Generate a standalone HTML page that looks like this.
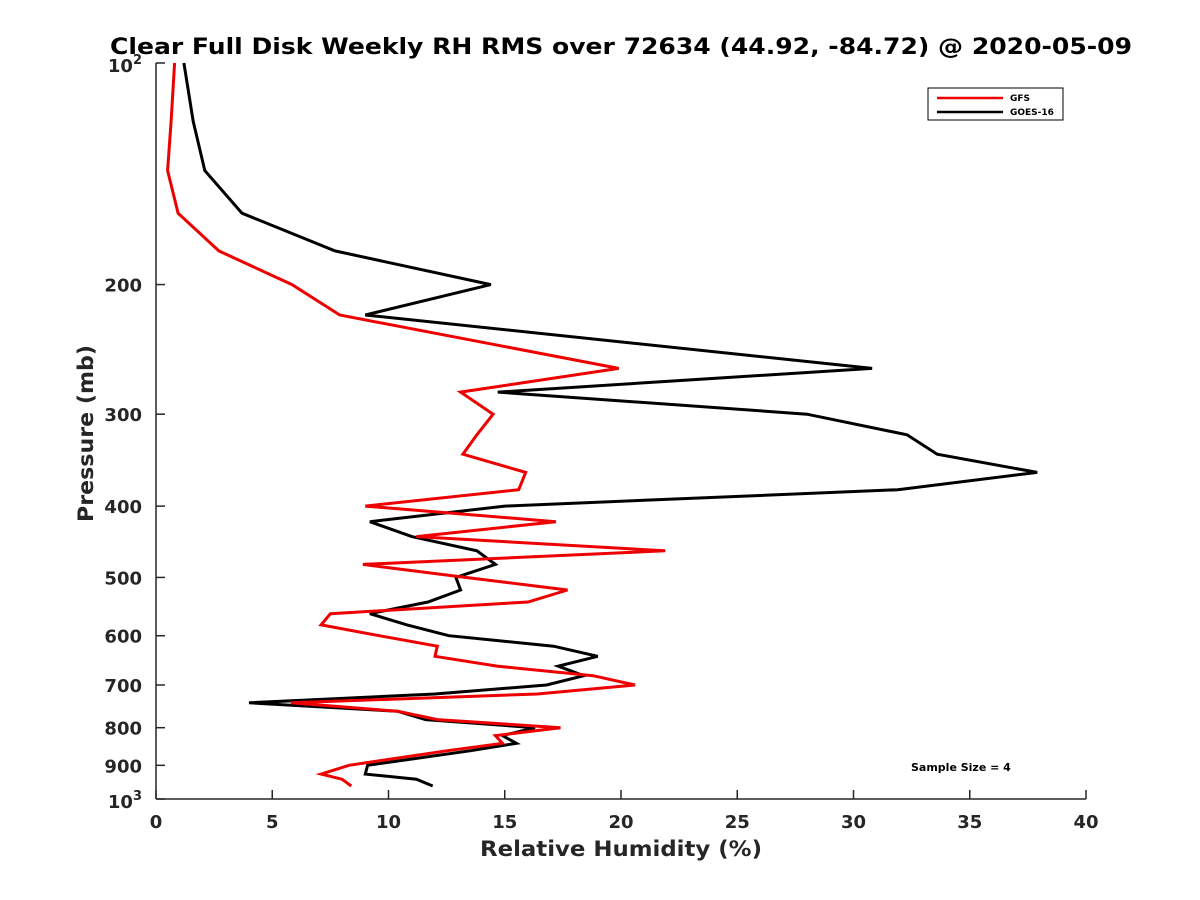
<!DOCTYPE html>
<html><head><meta charset="utf-8"><style>
body{margin:0;background:#fff;}
svg{display:block;font-family:"DejaVu Sans","Liberation Sans",sans-serif;}
</style></head><body>
<svg id="chart" width="1200" height="900" viewBox="0 0 1200 900" xmlns="http://www.w3.org/2000/svg">
<rect width="1200" height="900" fill="#fff"/>
<text x="110" y="54" font-size="22" font-weight="bold" textLength="1022" lengthAdjust="spacingAndGlyphs">Clear Full Disk Weekly RH RMS over 72634 (44.92, -84.72) @ 2020-05-09</text>
<g id="axes"></g>
<g id="series"></g>
<g>
<rect x="928" y="88" width="135" height="32" fill="#fff" stroke="#000" stroke-width="1"/>
<line x1="937" y1="98" x2="1003" y2="98" stroke="#e00" stroke-width="2.5"/>
<text x="1010" y="101" font-size="9" font-weight="bold">GFS</text>
<line x1="937" y1="112" x2="1003" y2="112" stroke="#000" stroke-width="2.5"/>
<text x="1010" y="115" font-size="9" font-weight="bold">GOES-16</text>
</g>
<text x="911" y="771" font-size="11" font-weight="bold">Sample Size = 4</text>
<text x="480" y="856" font-size="21" font-weight="bold" fill="#262626" textLength="282" lengthAdjust="spacingAndGlyphs">Relative Humidity (%)</text>
<text transform="translate(93,522) rotate(-90)" font-size="21" font-weight="bold" fill="#262626" textLength="177" lengthAdjust="spacingAndGlyphs">Pressure (mb)</text>
</svg>
<script>
const pressures=[100,120,140,160,180,200,220,260,280,300,320,340,360,380,400,420,440,460,480,500,520,540,560,580,600,620,640,660,680,700,720,740,760,780,800,820,840,860,900,925,940,960];
const goesRH=[1.2,1.6,2.1,3.7,7.7,14.4,9.0,30.8,14.7,28.0,32.3,33.6,37.9,31.9,15.0,9.2,11.0,13.8,14.6,12.9,13.1,11.7,9.2,10.8,12.6,17.1,19.0,17.3,18.4,16.8,12.0,4.0,10.4,11.6,16.3,14.9,15.5,13.5,9.1,9.0,11.2,11.9];
const gfsRH=[0.8,0.65,0.5,0.95,2.7,5.85,7.9,19.9,13.1,14.5,13.8,13.2,15.9,15.6,9.0,17.2,11.2,21.9,8.9,13.3,17.7,16.0,7.5,7.1,9.6,12.1,12.0,14.7,18.8,20.6,16.4,5.8,10.4,12.1,17.4,14.6,14.9,12.5,8.3,7.1,8.0,8.4];
const xTicks=[0,5,10,15,20,25,30,35,40];
const yTicks=[200,300,400,500,600,700,800,900];
const NS="http://www.w3.org/2000/svg";
const X0=156,X1=1086,Y0=63,Y1=799;
function xs(v){return X0+(v-0)/40*(X1-X0);}
function ys(p){return Y0+(Math.log10(p)-2)*(Y1-Y0);}
function mk(tag,attrs,parent){const e=document.createElementNS(NS,tag);for(const k in attrs)e.setAttribute(k,attrs[k]);parent.appendChild(e);return e;}
const ax=document.getElementById('axes');
const yl=mk('line',{x1:X0,y1:Y0,x2:X0,y2:Y1,stroke:'#262626','stroke-width':1.5},ax);


const xl=mk('line',{x1:X0,y1:Y1,x2:X1,y2:Y1,stroke:'#262626','stroke-width':1.5},ax);


xTicks.forEach(v=>{
  const t=mk('line',{x1:xs(v),y1:Y1,x2:xs(v),y2:Y1-9,stroke:'#262626','stroke-width':1.5},ax);
  
  
  const l=mk('text',{x:xs(v),y:Y1+29,'text-anchor':'middle','font-size':18,'font-weight':'bold',fill:'#262626'},ax);
  l.textContent=v;
  
  
});
[100].concat(yTicks,[1000]).forEach(p=>{
  const t=mk('line',{x1:X0,y1:ys(p),x2:X0+9,y2:ys(p),stroke:'#262626','stroke-width':1.5},ax);
  
  
});
yTicks.forEach(p=>{
  const l=mk('text',{x:X0-14,y:ys(p)+7,'text-anchor':'end','font-size':18,'font-weight':'bold',fill:'#262626'},ax);
  l.textContent=p;
  
  
});
[[100,'2'],[1000,'3']].forEach(([p,e])=>{
  const l=mk('text',{x:X0-14,y:ys(p)+9,'text-anchor':'end','font-size':18,'font-weight':'bold',fill:'#262626'},ax);
  l.textContent='10';
  const s=mk('tspan',{dy:-8,'font-size':13},l);s.textContent=e;
  
  
});
const sg=document.getElementById('series');
function drawLine(vals,color,name){
  const pts=vals.map((v,i)=>xs(v).toFixed(1)+','+ys(pressures[i]).toFixed(1)).join(' ');
  const pl=mk('polyline',{points:pts,fill:'none',stroke:color,'stroke-width':3,'stroke-linejoin':'miter'},sg);
  
  
}
drawLine(goesRH,'#000','goes16-line');
drawLine(gfsRH,'#e00','gfs-line');
</script>
</body></html>
